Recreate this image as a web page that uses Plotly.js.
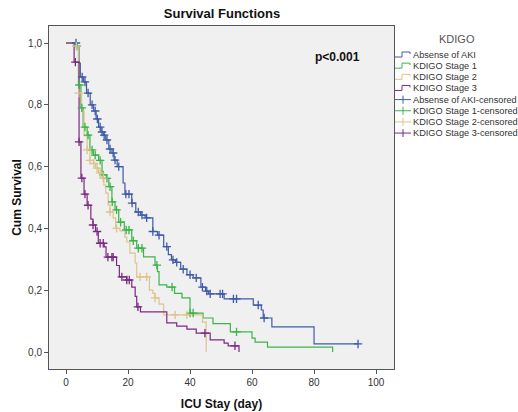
<!DOCTYPE html>
<html>
<head>
<meta charset="utf-8">
<script src="https://cdn.plot.ly/plotly-3.0.1.min.js"></script>
<style>html,body{margin:0;padding:0;background:#fff;}#chart{width:518px;height:412px;}</style>
</head>
<body>
<div id="chart"></div>
<script>
// ---- Data ----
const groupNames = ["Absense of AKI", "KDIGO Stage 1", "KDIGO Stage 2", "KDIGO Stage 3"];
const censoredNames = ["Absense of AKI-censored", "KDIGO Stage 1-censored", "KDIGO Stage 2-censored", "KDIGO Stage 3-censored"];
const legendTitle = "KDIGO";

// Absense of AKI: event times and survival after each event
const blueTimes = [3.5, 4.2, 4.6, 5.6, 6.6, 7.8, 8.9, 9.7, 10.5, 11.3, 12.0, 12.8, 13.8, 14.8, 15.5, 16.5, 18.4, 19.0, 21.2, 22.5, 24.0, 25.5, 28.0, 29.5, 31.5, 33.0, 34.0, 35.3, 37.0, 39.0, 41.0, 43.5, 45.0, 46.0, 51.0, 60.4, 63.0, 63.6, 66.4, 80.0];
const blueSurv  = [0.99, 0.935, 0.89, 0.874, 0.838, 0.80, 0.78, 0.754, 0.728, 0.712, 0.702, 0.686, 0.657, 0.644, 0.621, 0.60, 0.547, 0.511, 0.482, 0.453, 0.443, 0.434, 0.39, 0.378, 0.341, 0.315, 0.298, 0.29, 0.268, 0.25, 0.24, 0.21, 0.197, 0.188, 0.172, 0.152, 0.136, 0.11, 0.081, 0.026];
const blueEnd = 94.2;
const blueCens  = [3.2, 5.2, 6.1, 7.1, 8.4, 9.4, 10.1, 11.0, 11.6, 12.3, 13.2, 14.2, 15.2, 15.8, 17.0, 19.3, 20.3, 21.3, 23.3, 24.5, 26.0, 28.0, 30.0, 32.5, 34.5, 35.7, 37.8, 40.0, 42.0, 44.0, 45.4, 46.5, 49.7, 50.5, 54.0, 55.0, 62.0, 63.9, 94.2];

// KDIGO Stage 1
const greenTimes = [3.4, 4.0, 4.8, 5.5, 6.8, 7.7, 8.8, 10.5, 11.6, 13.0, 13.8, 14.8, 15.8, 17.0, 18.8, 21.2, 22.8, 25.0, 28.7, 29.5, 30.0, 32.5, 35.0, 37.4, 40.0, 44.2, 47.4, 53.0, 60.0, 61.0, 65.0, 86.0];
const greenSurv  = [0.99, 0.864, 0.79, 0.728, 0.702, 0.654, 0.637, 0.62, 0.573, 0.562, 0.535, 0.486, 0.46, 0.42, 0.395, 0.36, 0.336, 0.308, 0.281, 0.26, 0.217, 0.21, 0.19, 0.175, 0.126, 0.11, 0.092, 0.065, 0.045, 0.032, 0.016, 0.0];
const greenCens  = [3.5, 4.3, 5.1, 6.1, 7.1, 8.4, 9.4, 11.0, 12.0, 13.2, 14.2, 14.9, 16.3, 17.6, 19.4, 20.3, 21.7, 23.3, 24.5, 29.3, 34.2, 40.0, 41.0, 55.0];

// KDIGO Stage 2
const tanTimes = [3.3, 4.1, 5.0, 5.8, 6.8, 7.7, 8.8, 9.5, 10.5, 11.3, 12.2, 12.8, 13.6, 14.2, 15.2, 16.0, 17.4, 19.0, 19.6, 20.6, 22.3, 22.8, 26.9, 28.0, 28.7, 30.0, 31.5, 44.0, 45.2];
const tanSurv  = [0.99, 0.838, 0.78, 0.70, 0.654, 0.62, 0.61, 0.595, 0.58, 0.563, 0.54, 0.514, 0.476, 0.453, 0.434, 0.40, 0.392, 0.372, 0.356, 0.32, 0.288, 0.243, 0.20, 0.19, 0.175, 0.155, 0.12, 0.097, 0.0];
const tanCens  = [3.3, 4.1, 6.8, 7.7, 9.0, 10.0, 11.0, 12.0, 14.2, 16.3, 23.9, 26.0, 28.7, 35.2, 39.0];

// KDIGO Stage 3
const purpleTimes = [2.6, 4.2, 4.8, 5.8, 6.8, 8.0, 8.7, 9.5, 10.4, 12.3, 12.9, 16.3, 17.2, 19.6, 21.2, 22.3, 22.8, 24.0, 32.5, 35.7, 39.0, 42.0, 46.5, 51.0, 52.3, 55.8];
const purpleSurv  = [0.938, 0.68, 0.563, 0.511, 0.475, 0.43, 0.411, 0.39, 0.352, 0.34, 0.307, 0.28, 0.243, 0.233, 0.21, 0.18, 0.146, 0.13, 0.094, 0.084, 0.074, 0.061, 0.039, 0.029, 0.02, 0.0];
const purpleCens  = [3.0, 4.2, 5.1, 6.1, 7.1, 8.7, 10.0, 11.0, 12.0, 13.5, 14.8, 15.2, 18.0, 19.6, 20.4, 23.2, 44.8, 54.5];

const xTickVals = [0, 20, 40, 60, 80, 100];
const yTickVals = [0, 0.2, 0.4, 0.6, 0.8, 1.0];
const yTickText = ["0,0", "0,2", "0,4", "0,6", "0,8", "1,0"];
const pValueText = "p<0.001";

// ---- Styling ----
const colors = ["#3f5aa8", "#3cb44a", "#dcc48c", "#7a2a82"];
const FONT = "Arial, 'Liberation Sans', sans-serif";

function survAt(times, surv, t) {
  let s = 1;
  for (let i = 0; i < times.length; i++) { if (times[i] <= t) s = surv[i]; }
  return s;
}
function stepTrace(times, surv, endT, color, name) {
  const x = [0].concat(times);
  const y = [1].concat(surv);
  if (endT !== null && endT > times[times.length - 1]) { x.push(endT); y.push(surv[surv.length - 1]); }
  return { x: x, y: y, type: "scatter", mode: "lines", line: { shape: "hv", color: color, width: 1.2 }, name: name, showlegend: false, hoverinfo: "skip" };
}
function censTrace(cens, times, surv, color, name) {
  return { x: cens, y: cens.map(t => survAt(times, surv, t)), type: "scatter", mode: "markers",
    marker: { symbol: "cross-thin", size: 6, line: { color: color, width: 1.3 }, color: color },
    name: name, showlegend: false, hoverinfo: "skip" };
}

const series = [
  [blueTimes, blueSurv, blueEnd, blueCens],
  [greenTimes, greenSurv, null, greenCens],
  [tanTimes, tanSurv, null, tanCens],
  [purpleTimes, purpleSurv, null, purpleCens]
];
const traces = [];
series.forEach((s, i) => traces.push(stepTrace(s[0], s[1], s[2], colors[i], groupNames[i])));
series.forEach((s, i) => traces.push(censTrace(s[3], s[0], s[1], colors[i], censoredNames[i])));

// ---- Layout geometry (pixels) ----
const W = 518, H = 412;
const L = 49, R = 394, T = 26, B = 369;
const px2x = p => (p - L) / (R - L);
const px2y = p => (B - p) / (B - T);

const annotations = [
  { text: "<b>" + pValueText + "</b>", xref: "paper", yref: "paper", x: px2x(337), y: px2y(57), xanchor: "center", yanchor: "middle", showarrow: false, font: { family: FONT, size: 12, color: "#111" } },
  { text: legendTitle, xref: "paper", yref: "paper", x: px2x(457), y: px2y(39), xanchor: "center", yanchor: "middle", showarrow: false, font: { family: FONT, size: 11, color: "#555" } }
];
const shapes = [];
const legendLabels = groupNames.concat(censoredNames);
legendLabels.forEach((lab, i) => {
  const yc = 55 + 11.15 * i;
  annotations.push({ text: lab, xref: "paper", yref: "paper", x: px2x(411), y: px2y(yc), xanchor: "left", yanchor: "middle", showarrow: false, font: { family: FONT, size: 9.2, color: "#333" } });
  const c = colors[i % 4];
  if (i < 4) {
    const path = "M " + px2x(395) + " " + px2y(yc + 2) + " L " + px2x(402) + " " + px2y(yc + 2) +
      " L " + px2x(402) + " " + px2y(yc - 3) + " L " + px2x(410) + " " + px2y(yc - 3) + " L " + px2x(410) + " " + px2y(yc - 1);
    shapes.push({ type: "path", xref: "paper", yref: "paper", path: path, line: { color: c, width: 1 } });
  } else {
    shapes.push({ type: "line", xref: "paper", yref: "paper", x0: px2x(395), x1: px2x(411), y0: px2y(yc), y1: px2y(yc), line: { color: c, width: 1 } });
    shapes.push({ type: "line", xref: "paper", yref: "paper", x0: px2x(403), x1: px2x(403), y0: px2y(yc - 4), y1: px2y(yc + 4), line: { color: c, width: 1 } });
  }
});

const layout = {
  width: W, height: H,
  margin: { l: L, r: W - R, t: T, b: H - B, pad: 0 },
  paper_bgcolor: "#ffffff", plot_bgcolor: "#f0f0f0",
  showlegend: false,
  title: { text: "<b>Survival Functions</b>", x: px2x(222), xref: "paper", xanchor: "center", y: 1 - 13 / H, yanchor: "middle", font: { family: FONT, size: 13, color: "#111" } },
  xaxis: {
    range: [-5.5, 105.8], tickvals: xTickVals, ticktext: xTickVals.map(String),
    ticks: "outside", ticklen: 4, tickcolor: "#555", showgrid: false, zeroline: false,
    showline: true, mirror: true, linecolor: "#555", linewidth: 1,
    tickfont: { family: FONT, size: 10, color: "#333" },
    title: { text: "<b>ICU Stay (day)</b>", font: { family: FONT, size: 12, color: "#111" }, standoff: 12 }
  },
  yaxis: {
    range: [-0.055, 1.055], tickvals: yTickVals, ticktext: yTickText,
    ticks: "outside", ticklen: 4, tickcolor: "#555", showgrid: false, zeroline: false,
    showline: true, mirror: true, linecolor: "#555", linewidth: 1,
    tickfont: { family: FONT, size: 10, color: "#333" },
    title: { text: "<b>Cum Survival</b>", font: { family: FONT, size: 12, color: "#111" }, standoff: 3 }
  },
  annotations: annotations,
  shapes: shapes
};

Plotly.newPlot("chart", traces, layout, { displayModeBar: false, staticPlot: true });
</script>
</body>
</html>
